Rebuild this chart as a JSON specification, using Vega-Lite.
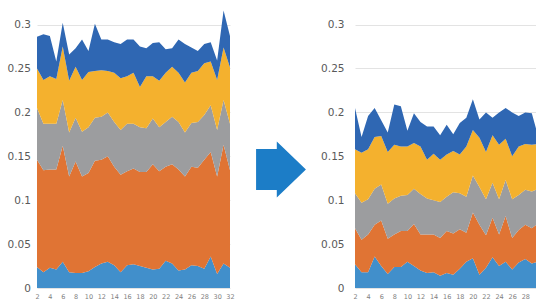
{
 "$schema": "https://vega.github.io/schema/vega-lite/v6.json",
 "usermeta": {"embedOptions": {"actions": false}},
 "padding": {"left": 7, "top": 7, "right": 0, "bottom": 0},
 "background": "white",
 "config": {"view": {"stroke": null}, "font": "DejaVu Sans"},
 "bounds": "flush",
 "spacing": 0,
 "datasets": {
  "before": [
   {"x":2,"s":"1","v":0.024},{"x":2,"s":"2","v":0.122},{"x":2,"s":"3","v":0.059},{"x":2,"s":"4","v":0.045},{"x":2,"s":"5","v":0.036},
   {"x":3,"s":"1","v":0.018},{"x":3,"s":"2","v":0.116},{"x":3,"s":"3","v":0.053},{"x":3,"s":"4","v":0.050},{"x":3,"s":"5","v":0.052},
   {"x":4,"s":"1","v":0.023},{"x":4,"s":"2","v":0.112},{"x":4,"s":"3","v":0.052},{"x":4,"s":"4","v":0.054},{"x":4,"s":"5","v":0.046},
   {"x":5,"s":"1","v":0.021},{"x":5,"s":"2","v":0.114},{"x":5,"s":"3","v":0.052},{"x":5,"s":"4","v":0.051},{"x":5,"s":"5","v":0.020},
   {"x":6,"s":"1","v":0.030},{"x":6,"s":"2","v":0.132},{"x":6,"s":"3","v":0.052},{"x":6,"s":"4","v":0.061},{"x":6,"s":"5","v":0.027},
   {"x":7,"s":"1","v":0.018},{"x":7,"s":"2","v":0.109},{"x":7,"s":"3","v":0.050},{"x":7,"s":"4","v":0.059},{"x":7,"s":"5","v":0.030},
   {"x":8,"s":"1","v":0.017},{"x":8,"s":"2","v":0.127},{"x":8,"s":"3","v":0.050},{"x":8,"s":"4","v":0.058},{"x":8,"s":"5","v":0.021},
   {"x":9,"s":"1","v":0.017},{"x":9,"s":"2","v":0.110},{"x":9,"s":"3","v":0.051},{"x":9,"s":"4","v":0.059},{"x":9,"s":"5","v":0.046},
   {"x":10,"s":"1","v":0.019},{"x":10,"s":"2","v":0.112},{"x":10,"s":"3","v":0.052},{"x":10,"s":"4","v":0.063},{"x":10,"s":"5","v":0.024},
   {"x":11,"s":"1","v":0.024},{"x":11,"s":"2","v":0.121},{"x":11,"s":"3","v":0.049},{"x":11,"s":"4","v":0.053},{"x":11,"s":"5","v":0.054},
   {"x":12,"s":"1","v":0.028},{"x":12,"s":"2","v":0.118},{"x":12,"s":"3","v":0.049},{"x":12,"s":"4","v":0.053},{"x":12,"s":"5","v":0.035},
   {"x":13,"s":"1","v":0.030},{"x":13,"s":"2","v":0.120},{"x":13,"s":"3","v":0.050},{"x":13,"s":"4","v":0.047},{"x":13,"s":"5","v":0.036},
   {"x":14,"s":"1","v":0.026},{"x":14,"s":"2","v":0.112},{"x":14,"s":"3","v":0.051},{"x":14,"s":"4","v":0.056},{"x":14,"s":"5","v":0.035},
   {"x":15,"s":"1","v":0.018},{"x":15,"s":"2","v":0.111},{"x":15,"s":"3","v":0.051},{"x":15,"s":"4","v":0.059},{"x":15,"s":"5","v":0.039},
   {"x":16,"s":"1","v":0.026},{"x":16,"s":"2","v":0.107},{"x":16,"s":"3","v":0.054},{"x":16,"s":"4","v":0.054},{"x":16,"s":"5","v":0.042},
   {"x":17,"s":"1","v":0.027},{"x":17,"s":"2","v":0.109},{"x":17,"s":"3","v":0.051},{"x":17,"s":"4","v":0.058},{"x":17,"s":"5","v":0.038},
   {"x":18,"s":"1","v":0.025},{"x":18,"s":"2","v":0.107},{"x":18,"s":"3","v":0.051},{"x":18,"s":"4","v":0.046},{"x":18,"s":"5","v":0.046},
   {"x":19,"s":"1","v":0.023},{"x":19,"s":"2","v":0.109},{"x":19,"s":"3","v":0.050},{"x":19,"s":"4","v":0.059},{"x":19,"s":"5","v":0.032},
   {"x":20,"s":"1","v":0.021},{"x":20,"s":"2","v":0.120},{"x":20,"s":"3","v":0.052},{"x":20,"s":"4","v":0.048},{"x":20,"s":"5","v":0.038},
   {"x":21,"s":"1","v":0.022},{"x":21,"s":"2","v":0.111},{"x":21,"s":"3","v":0.050},{"x":21,"s":"4","v":0.053},{"x":21,"s":"5","v":0.044},
   {"x":22,"s":"1","v":0.031},{"x":22,"s":"2","v":0.107},{"x":22,"s":"3","v":0.051},{"x":22,"s":"4","v":0.056},{"x":22,"s":"5","v":0.027},
   {"x":23,"s":"1","v":0.028},{"x":23,"s":"2","v":0.113},{"x":23,"s":"3","v":0.054},{"x":23,"s":"4","v":0.057},{"x":23,"s":"5","v":0.021},
   {"x":24,"s":"1","v":0.020},{"x":24,"s":"2","v":0.115},{"x":24,"s":"3","v":0.054},{"x":24,"s":"4","v":0.056},{"x":24,"s":"5","v":0.038},
   {"x":25,"s":"1","v":0.021},{"x":25,"s":"2","v":0.106},{"x":25,"s":"3","v":0.050},{"x":25,"s":"4","v":0.057},{"x":25,"s":"5","v":0.044},
   {"x":26,"s":"1","v":0.026},{"x":26,"s":"2","v":0.112},{"x":26,"s":"3","v":0.050},{"x":26,"s":"4","v":0.057},{"x":26,"s":"5","v":0.029},
   {"x":27,"s":"1","v":0.025},{"x":27,"s":"2","v":0.112},{"x":27,"s":"3","v":0.052},{"x":27,"s":"4","v":0.058},{"x":27,"s":"5","v":0.023},
   {"x":28,"s":"1","v":0.022},{"x":28,"s":"2","v":0.124},{"x":28,"s":"3","v":0.051},{"x":28,"s":"4","v":0.059},{"x":28,"s":"5","v":0.022},
   {"x":29,"s":"1","v":0.036},{"x":29,"s":"2","v":0.119},{"x":29,"s":"3","v":0.053},{"x":29,"s":"4","v":0.050},{"x":29,"s":"5","v":0.022},
   {"x":30,"s":"1","v":0.016},{"x":30,"s":"2","v":0.111},{"x":30,"s":"3","v":0.053},{"x":30,"s":"4","v":0.057},{"x":30,"s":"5","v":0.022},
   {"x":31,"s":"1","v":0.028},{"x":31,"s":"2","v":0.135},{"x":31,"s":"3","v":0.051},{"x":31,"s":"4","v":0.060},{"x":31,"s":"5","v":0.042},
   {"x":32,"s":"1","v":0.023},{"x":32,"s":"2","v":0.111},{"x":32,"s":"3","v":0.053},{"x":32,"s":"4","v":0.064},{"x":32,"s":"5","v":0.036}
  ],
  "after": [
   {"x":2,"s":"1","v":0.027},{"x":2,"s":"2","v":0.041},{"x":2,"s":"3","v":0.040},{"x":2,"s":"4","v":0.050},{"x":2,"s":"5","v":0.047},
   {"x":3,"s":"1","v":0.018},{"x":3,"s":"2","v":0.037},{"x":3,"s":"3","v":0.042},{"x":3,"s":"4","v":0.057},{"x":3,"s":"5","v":0.018},
   {"x":4,"s":"1","v":0.018},{"x":4,"s":"2","v":0.043},{"x":4,"s":"3","v":0.040},{"x":4,"s":"4","v":0.057},{"x":4,"s":"5","v":0.038},
   {"x":5,"s":"1","v":0.036},{"x":5,"s":"2","v":0.036},{"x":5,"s":"3","v":0.041},{"x":5,"s":"4","v":0.059},{"x":5,"s":"5","v":0.033},
   {"x":6,"s":"1","v":0.025},{"x":6,"s":"2","v":0.052},{"x":6,"s":"3","v":0.041},{"x":6,"s":"4","v":0.055},{"x":6,"s":"5","v":0.018},
   {"x":7,"s":"1","v":0.016},{"x":7,"s":"2","v":0.040},{"x":7,"s":"3","v":0.040},{"x":7,"s":"4","v":0.059},{"x":7,"s":"5","v":0.022},
   {"x":8,"s":"1","v":0.024},{"x":8,"s":"2","v":0.037},{"x":8,"s":"3","v":0.041},{"x":8,"s":"4","v":0.061},{"x":8,"s":"5","v":0.046},
   {"x":9,"s":"1","v":0.024},{"x":9,"s":"2","v":0.041},{"x":9,"s":"3","v":0.040},{"x":9,"s":"4","v":0.056},{"x":9,"s":"5","v":0.046},
   {"x":10,"s":"1","v":0.030},{"x":10,"s":"2","v":0.035},{"x":10,"s":"3","v":0.041},{"x":10,"s":"4","v":0.055},{"x":10,"s":"5","v":0.018},
   {"x":11,"s":"1","v":0.025},{"x":11,"s":"2","v":0.048},{"x":11,"s":"3","v":0.040},{"x":11,"s":"4","v":0.052},{"x":11,"s":"5","v":0.034},
   {"x":12,"s":"1","v":0.020},{"x":12,"s":"2","v":0.041},{"x":12,"s":"3","v":0.046},{"x":12,"s":"4","v":0.054},{"x":12,"s":"5","v":0.028},
   {"x":13,"s":"1","v":0.017},{"x":13,"s":"2","v":0.044},{"x":13,"s":"3","v":0.041},{"x":13,"s":"4","v":0.044},{"x":13,"s":"5","v":0.038},
   {"x":14,"s":"1","v":0.018},{"x":14,"s":"2","v":0.043},{"x":14,"s":"3","v":0.039},{"x":14,"s":"4","v":0.053},{"x":14,"s":"5","v":0.031},
   {"x":15,"s":"1","v":0.014},{"x":15,"s":"2","v":0.043},{"x":15,"s":"3","v":0.041},{"x":15,"s":"4","v":0.048},{"x":15,"s":"5","v":0.028},
   {"x":16,"s":"1","v":0.017},{"x":16,"s":"2","v":0.048},{"x":16,"s":"3","v":0.039},{"x":16,"s":"4","v":0.048},{"x":16,"s":"5","v":0.034},
   {"x":17,"s":"1","v":0.015},{"x":17,"s":"2","v":0.047},{"x":17,"s":"3","v":0.047},{"x":17,"s":"4","v":0.047},{"x":17,"s":"5","v":0.019},
   {"x":18,"s":"1","v":0.022},{"x":18,"s":"2","v":0.045},{"x":18,"s":"3","v":0.041},{"x":18,"s":"4","v":0.044},{"x":18,"s":"5","v":0.036},
   {"x":19,"s":"1","v":0.030},{"x":19,"s":"2","v":0.033},{"x":19,"s":"3","v":0.041},{"x":19,"s":"4","v":0.057},{"x":19,"s":"5","v":0.033},
   {"x":20,"s":"1","v":0.034},{"x":20,"s":"2","v":0.052},{"x":20,"s":"3","v":0.042},{"x":20,"s":"4","v":0.052},{"x":20,"s":"5","v":0.035},
   {"x":21,"s":"1","v":0.015},{"x":21,"s":"2","v":0.057},{"x":21,"s":"3","v":0.043},{"x":21,"s":"4","v":0.056},{"x":21,"s":"5","v":0.021},
   {"x":22,"s":"1","v":0.023},{"x":22,"s":"2","v":0.037},{"x":22,"s":"3","v":0.041},{"x":22,"s":"4","v":0.054},{"x":22,"s":"5","v":0.045},
   {"x":23,"s":"1","v":0.035},{"x":23,"s":"2","v":0.045},{"x":23,"s":"3","v":0.040},{"x":23,"s":"4","v":0.054},{"x":23,"s":"5","v":0.020},
   {"x":24,"s":"1","v":0.025},{"x":24,"s":"2","v":0.036},{"x":24,"s":"3","v":0.040},{"x":24,"s":"4","v":0.062},{"x":24,"s":"5","v":0.037},
   {"x":25,"s":"1","v":0.030},{"x":25,"s":"2","v":0.052},{"x":25,"s":"3","v":0.041},{"x":25,"s":"4","v":0.047},{"x":25,"s":"5","v":0.035},
   {"x":26,"s":"1","v":0.021},{"x":26,"s":"2","v":0.036},{"x":26,"s":"3","v":0.044},{"x":26,"s":"4","v":0.049},{"x":26,"s":"5","v":0.050},
   {"x":27,"s":"1","v":0.029},{"x":27,"s":"2","v":0.037},{"x":27,"s":"3","v":0.040},{"x":27,"s":"4","v":0.055},{"x":27,"s":"5","v":0.035},
   {"x":28,"s":"1","v":0.033},{"x":28,"s":"2","v":0.039},{"x":28,"s":"3","v":0.040},{"x":28,"s":"4","v":0.052},{"x":28,"s":"5","v":0.036},
   {"x":29,"s":"1","v":0.028},{"x":29,"s":"2","v":0.040},{"x":29,"s":"3","v":0.042},{"x":29,"s":"4","v":0.053},{"x":29,"s":"5","v":0.036},
   {"x":30,"s":"1","v":0.030},{"x":30,"s":"2","v":0.044},{"x":30,"s":"3","v":0.039},{"x":30,"s":"4","v":0.051},{"x":30,"s":"5","v":0.008}
  ],
  "arrow": [{"px": 51, "py": 0.135}]
 },
 "hconcat": [
  {
   "width": 193, "height": 281,
   "data": {"name": "before"},
   "mark": {"type": "area"},
   "encoding": {
    "x": {"field": "x", "type": "quantitative", "scale": {"domain": [2, 32], "nice": false, "zero": false},
          "axis": {"values": [2,4,6,8,10,12,14,16,18,20,22,24,26,28,30,32], "grid": false, "domain": false, "ticks": false, "labelPadding": 5, "labelFontSize": 6.5, "labelColor": "#808080", "title": null, "labelFlush": false, "labelOverlap": false, "labelBound": false}},
    "y": {"field": "v", "type": "quantitative", "stack": "zero", "scale": {"domain": [0, 0.32], "nice": false},
          "axis": {"values": [0,0.05,0.1,0.15,0.2,0.25,0.3], "format": ".2~f", "grid": true, "gridColor": "#E3E3E3", "domain": false, "ticks": false, "labelPadding": 6.6, "labelFontSize": 10.5, "labelColor": "#595959", "title": null}},
    "color": {"field": "s", "type": "nominal", "scale": {"domain": ["1","2","3","4","5"], "range": ["#418FCB","#E07434","#9C9D9F","#F4B12E","#2F67B3"]}, "legend": null},
    "order": {"field": "s", "sort": "ascending"}
   }
  },
  {
   "width": 125, "height": 281,
   "data": {"name": "arrow"},
   "mark": {"type": "point", "filled": true, "opacity": 1, "shape": "M-0.89,-0.73L-0.15,-0.73L-0.15,-1L0.89,0L-0.15,1L-0.15,0.73L-0.89,0.73Z", "size": 3136, "color": "#1C7DC7", "strokeWidth": 0},
   "encoding": {
    "x": {"field": "px", "type": "quantitative", "scale": {"domain": [0, 125], "nice": false}, "axis": null},
    "y": {"field": "py", "type": "quantitative", "scale": {"domain": [0, 0.32], "nice": false}, "axis": null}
   }
  },
  {
   "width": 181.4, "height": 281,
   "data": {"name": "after"},
   "mark": {"type": "area", "clip": true},
   "encoding": {
    "x": {"field": "x", "type": "quantitative", "scale": {"domain": [2, 29.7], "nice": false, "zero": false},
          "axis": {"values": [2,4,6,8,10,12,14,16,18,20,22,24,26,28], "grid": false, "domain": false, "ticks": false, "labelPadding": 5, "labelFontSize": 6.5, "labelColor": "#808080", "title": null, "labelFlush": false, "labelOverlap": false, "labelBound": false}},
    "y": {"field": "v", "type": "quantitative", "stack": "zero", "scale": {"domain": [0, 0.32], "nice": false},
          "axis": {"values": [0,0.05,0.1,0.15,0.2,0.25,0.3], "format": ".2~f", "grid": true, "gridColor": "#E3E3E3", "domain": false, "ticks": false, "labelPadding": 11, "labelFontSize": 10.5, "labelColor": "#595959", "title": null}},
    "color": {"field": "s", "type": "nominal", "scale": {"domain": ["1","2","3","4","5"], "range": ["#418FCB","#E07434","#9C9D9F","#F4B12E","#2F67B3"]}, "legend": null},
    "order": {"field": "s", "sort": "ascending"}
   }
  }
 ]
}
